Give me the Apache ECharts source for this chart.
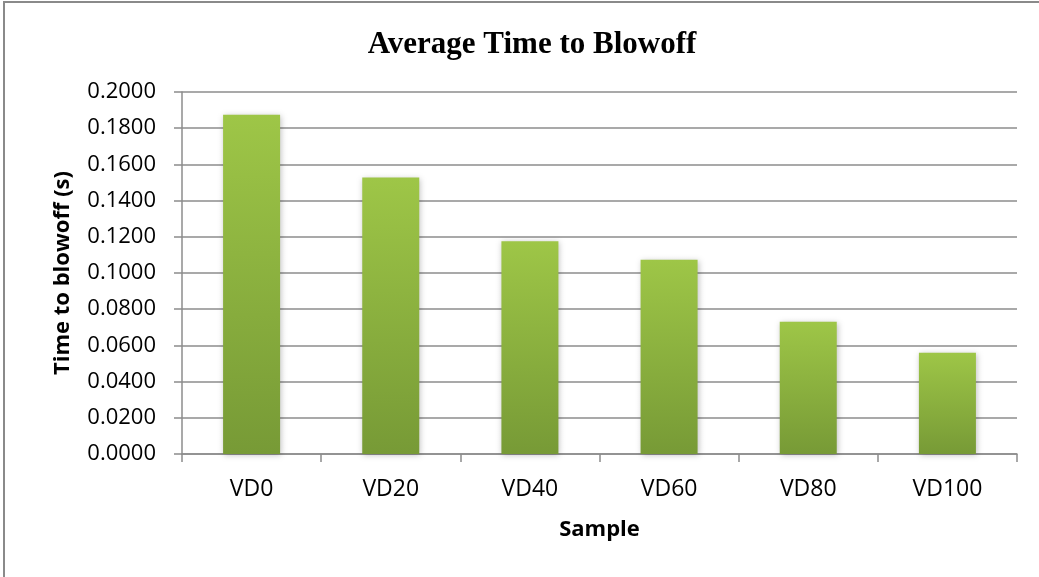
<!DOCTYPE html>
<html>
<head>
<meta charset="utf-8">
<script src="https://cdn.jsdelivr.net/npm/echarts@6/dist/echarts.min.js"></script>
<style>
  html, body { margin: 0; padding: 0; background: #fff; }
  #chart { width: 1039px; height: 577px; }
</style>
</head>
<body>
<div id="chart"></div>
<script>
// data
var samples = ['VD0', 'VD20', 'VD40', 'VD60', 'VD80', 'VD100']
var blowoffTimes = [0.1875, 0.1527, 0.1176, 0.1073, 0.0730, 0.0560]
var yTicks = { min: 0, max: 0.2, step: 0.02 }

var axisFont = '"Open Sans", "Liberation Sans", sans-serif'

var option = {
    backgroundColor: '#ffffff',
    animation: false,
    title: {
        text: 'Average Time to Blowoff',
        left: 527,
        top: 24,
        textAlign: 'center',
        textStyle: {
            fontFamily: '"Liberation Serif", "DejaVu Serif", serif',
            fontWeight: 'bold',
            fontSize: 31,
            color: '#000'
        }
    },
    graphic: [
        {
            type: 'rect',
            shape: { x: 4, y: 2, width: 1040, height: 580 },
            style: { fill: 'none', stroke: '#8a8a8a', lineWidth: 2 },
            silent: true
        }
    ],
    grid: {
        left: 182,
        right: 22,
        top: 92,
        bottom: 123
    },
    xAxis: {
        type: 'category',
        data: samples,
        name: 'Sample',
        nameLocation: 'middle',
        nameGap: 65,
        nameTextStyle: {
            fontFamily: axisFont,
            fontWeight: 'bold',
            fontSize: 22,
            color: '#000'
        },
        axisLine: { lineStyle: { color: '#8c8c8c', width: 1.5 } },
        axisTick: { show: true, length: 8, alignWithLabel: false, lineStyle: { color: '#8c8c8c', width: 1.5 } },
        axisLabel: {
            margin: 24,
            fontFamily: axisFont,
            fontSize: 23,
            color: '#000'
        }
    },
    yAxis: {
        type: 'value',
        min: yTicks.min,
        max: yTicks.max,
        interval: yTicks.step,
        name: 'Time to blowoff (s)',
        nameLocation: 'middle',
        nameGap: 108,
        nameRotate: 90,
        nameTextStyle: {
            fontFamily: axisFont,
            fontWeight: 'bold',
            fontSize: 22,
            color: '#000'
        },
        axisLine: { show: true, lineStyle: { color: '#8c8c8c', width: 1.5 } },
        axisTick: { show: true, length: 8, lineStyle: { color: '#8c8c8c', width: 1.5 } },
        axisLabel: {
            margin: 26,
            fontFamily: axisFont,
            fontSize: 22,
            color: '#000',
            formatter: function (v) { return v.toFixed(4) }
        },
        splitLine: { lineStyle: { color: '#8c8c8c', width: 1.5 } }
    },
    series: [
        {
            type: 'bar',
            data: blowoffTimes,
            barWidth: 57,
            itemStyle: {
                color: new echarts.graphic.LinearGradient(0, 0, 0, 1, [
                    { offset: 0, color: '#9ec647' },
                    { offset: 1, color: '#779a36' }
                ]),
                shadowColor: 'rgba(0,0,0,0.25)',
                shadowBlur: 6,
                shadowOffsetX: 1,
                shadowOffsetY: 1
            }
        }
    ]
}

var myChart = echarts.init(document.getElementById('chart'))
myChart.setOption(option)
</script>
</body>
</html>
